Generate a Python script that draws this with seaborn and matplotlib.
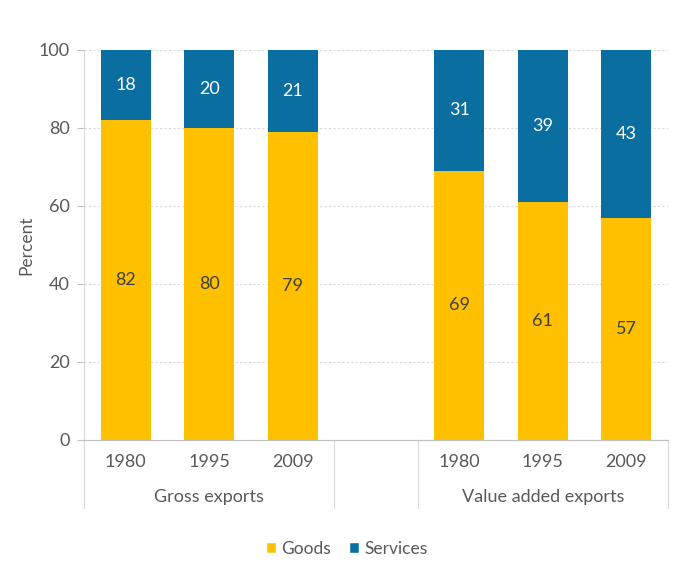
import matplotlib
matplotlib.use("Agg")
import matplotlib.pyplot as plt
import matplotlib.transforms as mtransforms
from matplotlib.patches import Patch
import seaborn as sns
import pandas as pd

groups = ["Gross exports", "Gross exports", "Gross exports",
          "Value added exports", "Value added exports", "Value added exports"]
years = ["1980", "1995", "2009", "1980", "1995", "2009"]
goods = [82, 80, 79, 69, 61, 57]
services = [18, 20, 21, 31, 39, 43]
group_names = ["Gross exports", "Value added exports"]

GOLD = "#FFC000"
BLUE = "#0A6EA0"
TXT = "#595959"
FS = 13

sns.set_theme(style="white")
plt.rcParams["font.family"] = ["Lato", "DejaVu Sans"]

keys = [f"{g} {y}" for g, y in zip(groups, years)]
df = pd.DataFrame({"key": keys, "goods": goods, "services": services})
df["total"] = df["goods"] + df["services"]
order = keys[:3] + ["gap"] + keys[3:]

fig = plt.figure(figsize=(6.95, 5.62), dpi=100)
ax = fig.add_axes([84/695, 1-440/562, (668-84)/695, 390/562])

sns.barplot(data=df, x="key", y="total", order=order, color=BLUE,
            saturation=1, width=0.6, ax=ax, errorbar=None, linewidth=0)
sns.barplot(data=df, x="key", y="goods", order=order, color=GOLD,
            saturation=1, width=0.6, ax=ax, errorbar=None, linewidth=0)

ax.set_ylim(0, 100)
ax.set_xlim(-0.5, 6.5)
ax.set_yticks([0, 20, 40, 60, 80, 100])
ax.yaxis.grid(True, color="#D9D9D9", linestyle=(0, (2, 2)), linewidth=0.8)
ax.set_axisbelow(True)

# value labels
for i, k in enumerate(order):
    if k == "gap":
        continue
    row = df[df["key"] == k].iloc[0]
    ax.text(i, row["goods"] / 2, f"{row['goods']}", ha="center", va="center",
            color="#404040", fontsize=FS)
    ax.text(i, row["goods"] + row["services"] / 2, f"{row['services']}",
            ha="center", va="center", color="white", fontsize=FS)

ax.set_xticks([0, 1, 2, 4, 5, 6])
ax.set_xticklabels(years, fontsize=FS, color=TXT)
ax.tick_params(axis="x", length=0, pad=10)
ax.tick_params(axis="y", labelsize=FS, labelcolor=TXT, length=5,
               color="#BFBFBF", left=True, width=0.8, pad=5)
ax.set_xlabel("")
ax.set_ylabel("Percent", fontsize=FS - 0.5, color=TXT, labelpad=3)

for s in ["top", "right"]:
    ax.spines[s].set_visible(False)
ax.spines["left"].set_color("#D9D9D9")
ax.spines["bottom"].set_color("#BFBFBF")
ax.spines["left"].set_linewidth(0.8)
ax.spines["bottom"].set_linewidth(0.8)

trans = mtransforms.blended_transform_factory(ax.transData, ax.transAxes)
for xv in [-0.5, 2.5, 3.5, 6.5]:
    ax.plot([xv, xv], [0, -68/390], transform=trans, color="#D9D9D9",
            linewidth=0.8, clip_on=False)
ax.plot([3.5, 6.5], [0, 0], transform=trans, color="#D9D9D9", linewidth=0.8, clip_on=False)

ax.text(1, -57/390, group_names[0], transform=trans, ha="center", va="center",
        fontsize=FS, color=TXT)
ax.text(5, -57/390, group_names[1], transform=trans, ha="center", va="center",
        fontsize=FS, color=TXT)

handles = [Patch(facecolor=GOLD, label="Goods"), Patch(facecolor=BLUE, label="Services")]
fig.legend(handles=handles, loc="center", bbox_to_anchor=(0.499, 1-549/562), ncol=2,
           frameon=False, fontsize=FS - 0.5, handlelength=0.6, handleheight=0.6,
           handletextpad=0.3, columnspacing=1.0, labelcolor=TXT)

fig.savefig("out.png", dpi=100)
